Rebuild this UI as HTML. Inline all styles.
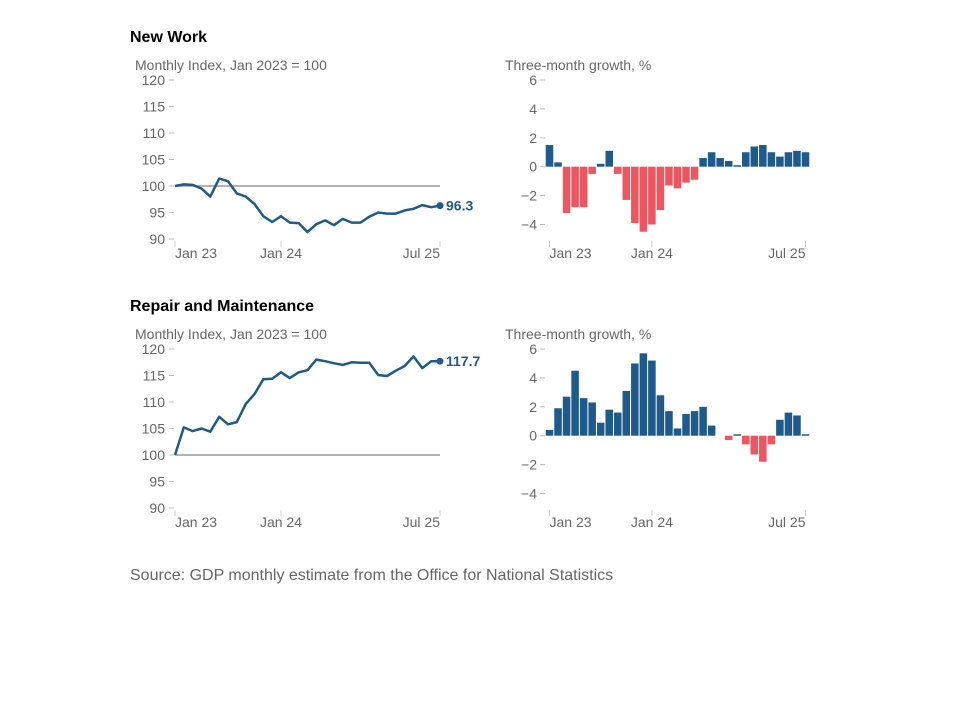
<!DOCTYPE html>
<html><head><meta charset="utf-8"><style>
body{margin:0;background:#fff;width:960px;height:720px;overflow:hidden;font-family:"Liberation Sans",sans-serif}
svg text{font-family:"Liberation Sans",sans-serif}
</style></head><body>
<svg id="c" width="960" height="720"></svg>
<script>
const months = ["Jan 23","Jan 24","Jul 25"];
const monthIdx = [0,12,30];
const nwIndex = [100,100.3,100.2,99.5,98.0,101.4,100.9,98.6,98.0,96.6,94.3,93.2,94.3,93.1,93.0,91.3,92.8,93.5,92.6,93.8,93.1,93.1,94.2,95.0,94.8,94.8,95.4,95.7,96.4,96.0,96.3];
const nwGrowth = [1.5,0.3,-3.2,-2.8,-2.8,-0.5,0.2,1.1,-0.5,-2.3,-3.9,-4.5,-4.0,-3.0,-1.3,-1.5,-1.1,-0.9,0.6,1.0,0.6,0.4,0.1,1.0,1.4,1.5,1.0,0.7,1.0,1.1,1.0];
const rmIndex = [100,105.2,104.5,105.0,104.4,107.2,105.8,106.2,109.6,111.5,114.3,114.4,115.6,114.5,115.6,116.0,118.0,117.7,117.3,117.0,117.5,117.4,117.4,115.1,114.9,115.9,116.8,118.6,116.4,117.7,117.7];
const rmGrowth = [0.4,1.9,2.7,4.5,2.6,2.3,0.9,1.8,1.6,3.1,5.0,5.7,5.2,2.8,1.7,0.5,1.5,1.7,2.0,0.7,null,-0.3,0.1,-0.6,-1.3,-1.8,-0.6,1.1,1.6,1.4,0.1];
const indexTicks = [90,95,100,105,110,115,120];
const growthTicks = [-4,-2,0,2,4,6];
const growthLabels = ["\u22124","\u22122","0","2","4","6"];

const svg = document.getElementById('c');
const NS = 'http://www.w3.org/2000/svg';
const anchors = ['start','middle','end'];
function mk(tag, attrs, parent){const e=document.createElementNS(NS,tag);for(const k in attrs)e.setAttribute(k,attrs[k]);(parent||svg).appendChild(e);return e;}
function txt(x,y,s,attrs,parent){const t=mk('text',Object.assign({x:x,y:y,'font-size':14,fill:'#666'},attrs),parent);t.textContent=s;return t;}

function lineChart(name, top, data){
  const g=mk('g',{});
  
  
  const x=i=>175+i*(265/30);
  const y=v=>top+(120-v)*5.3;
  const at=txt(135,top-10,'Monthly Index, Jan 2023 = 100',{},g);
  
  
  indexTicks.forEach(v=>{
    const t=txt(165,y(v)+5,String(v),{'text-anchor':'end'},g);
    
    
    mk('line',{x1:169,x2:174,y1:y(v),y2:y(v),stroke:'#bbb'},g);
  });
  mk('line',{x1:x(0),x2:x(30),y1:y(100),y2:y(100),stroke:'#999','stroke-width':1.5},g);
  const by=y(90);
  months.forEach((m,k)=>{
    mk('line',{x1:x(monthIdx[k]),x2:x(monthIdx[k]),y1:by+2,y2:by+8,stroke:'#ccc'},g);
    const t=txt(x(monthIdx[k]),by+19,m,{'text-anchor':anchors[k]},g);
    
    
  });
  const p=mk('path',{d:data.map((v,i)=>(i?'L':'M')+x(i).toFixed(1)+','+y(v).toFixed(1)).join(''),fill:'none',stroke:'#1e5a8c','stroke-width':2.5,'stroke-linejoin':'round'},g);
  
  
  const n=data.length-1;
  mk('circle',{cx:x(n),cy:y(data[n]),r:3.5,fill:'#1e5a8c'},g);
  const l=txt(x(n)+6,y(data[n])+5,data[n].toFixed(1),{fill:'#1e5a8c','font-weight':'bold'},g);
  
  
}

function barChart(name, top, data){
  const g=mk('g',{});
  
  
  const step=256/30;
  const x=i=>549.5+i*step;
  const y=v=>top+(6-v)*14.45;
  const at=txt(505,top-10,'Three-month growth, %',{},g);
  
  
  growthTicks.forEach((v,k)=>{
    const t=txt(537,y(v)+5,growthLabels[k],{'text-anchor':'end'},g);
    
    
    mk('line',{x1:540,x2:545,y1:y(v),y2:y(v),stroke:'#bbb'},g);
  });
  data.forEach((v,i)=>{
    if(v===null)return;
    const r=mk('rect',{x:x(i)-step/2+0.5,width:step-1,y:Math.min(y(v),y(0)),height:Math.max(Math.abs(y(v)-y(0)),1.5),fill:v>=0?'#1e5a8c':'#f0545e'},g);
    
    
  });
  const by=y(-5)+8;
  months.forEach((m,k)=>{
    const xx=x(monthIdx[k]);
    mk('line',{x1:xx,x2:xx,y1:by-6,y2:by,stroke:'#ccc'},g);
    const t=txt(xx,by+11,m,{'text-anchor':anchors[k]},g);
    
    
  });
}

const t1=txt(130,42,'New Work',{fill:'#000','font-weight':'bold','font-size':16});


const t2=txt(130,311,'Repair and Maintenance',{fill:'#000','font-weight':'bold','font-size':16});


lineChart('new-work',80,nwIndex);
barChart('new-work',80,nwGrowth);
lineChart('repair',349,rmIndex);
barChart('repair',349,rmGrowth);
const s=txt(130,580,'Source: GDP monthly estimate from the Office for National Statistics',{'font-size':16,fill:'#666'});


</script>
</body></html>
